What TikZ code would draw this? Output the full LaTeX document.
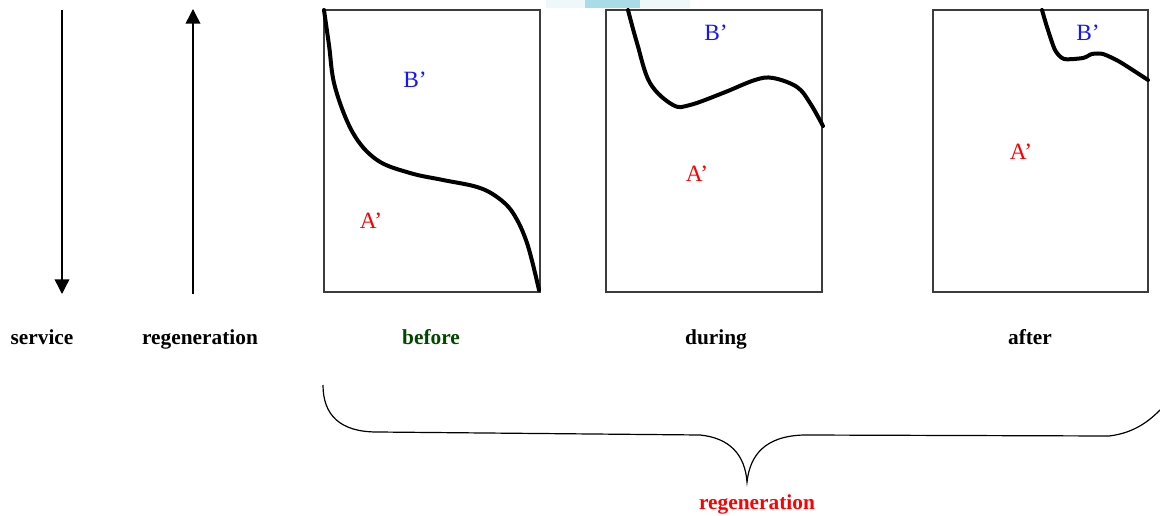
\documentclass[tikz,border=0pt]{standalone}
\usepackage{fontspec}
\setmainfont{Liberation Serif}
\usetikzlibrary{arrows.meta}
\definecolor{darkgreen}{RGB}{0,72,0}
\definecolor{lblue}{RGB}{20,20,255}
\definecolor{lred}{RGB}{255,0,0}
\definecolor{frame}{RGB}{60,60,60}
\definecolor{blob}{RGB}{170,220,232}
\tikzset{
  caption/.style={font=\bfseries\fontsize{16}{18}\selectfont, inner sep=0pt, anchor=base},
  region/.style={font=\fontsize{17.5}{19}\selectfont, inner sep=0pt},
  panel/.style={draw=frame, line width=1.1pt},
  boundary/.style={line width=3pt, line cap=round, line join=round},
  axis/.style={line width=1.1pt, -{Triangle[width=11pt,length=11pt]}},
  brace/.style={line width=0.9pt}
}
\begin{document}
\begin{tikzpicture}[x=0.75pt,y=-0.75pt]
\useasboundingbox (0,0) rectangle (1160,516);
% clipped picture at the top edge
\fill[blob] (560,0) -- (690,0) -- (686,8) -- (556,8) -- cycle;
\fill[white!80!blob] (546,0) rectangle (585,8);
\fill[white!80!blob] (640,0) rectangle (690,8);
% arrows
\coordinate (s1) at (62,10);
\coordinate (s2) at (62,294);
\coordinate (r1) at (193,294);
\coordinate (r2) at (193,9);
\draw[axis] (s1) -- (s2);
\draw[axis] (r1) -- (r2);
% captions
\node[caption] (service) at (42,345) {service};
\node[caption] (regen) at (200,345) {regeneration};
\node[caption, text=darkgreen] (before) at (431,345) {before};
\node[caption] (during) at (716,345) {during};
\node[caption] (after) at (1030,345) {after};
% panels
\draw[panel] (324,10) rectangle (540,292);
\draw[panel] (606,10) rectangle (822,292);
\draw[panel] (933,10) rectangle (1148,292);
% boundaries
\draw[boundary] plot[smooth, tension=0.6] coordinates {(324,10) (329,45) (335,87) (353,133) (377,160) (410,173) (443,180) (477,187) (497,197) (513,213) (527,243) (539,290)};
\draw[boundary] plot[smooth, tension=0.6] coordinates {(628,10) (637,43) (650,83) (673,105) (690,105) (723,93) (755,80) (773,78) (797,87) (810,103) (823,126)};
\draw[boundary] plot[smooth, tension=0.4] coordinates {(1042,10) (1047,27) (1055,50) (1064,59) (1083,58) (1092,54) (1103,54) (1120,62) (1148,80)};
% region labels
\node[region, text=lblue] (b1) at (415,80) {B’};
\node[region, text=lred] (a1) at (371,221) {A’};
\node[region, text=lblue] (b2) at (716,33) {B’};
\node[region, text=lred] (a2) at (697,174) {A’};
\node[region, text=lblue] (b3) at (1088,33) {B’};
\node[region, text=lred] (a3) at (1021,152) {A’};
% brace
\draw[brace] (323,385) .. controls (323,415) and (340,432) .. (377,432)
  -- (700,435) .. controls (730,438) and (745,455) .. (747,482)
  .. controls (750,455) and (765,436) .. (804,435)
  -- (1109,436) .. controls (1135,433) and (1150,420) .. (1160,410);
\node[caption, text=lred] (regen2) at (757,509) {regeneration};
\end{tikzpicture}
\end{document}
